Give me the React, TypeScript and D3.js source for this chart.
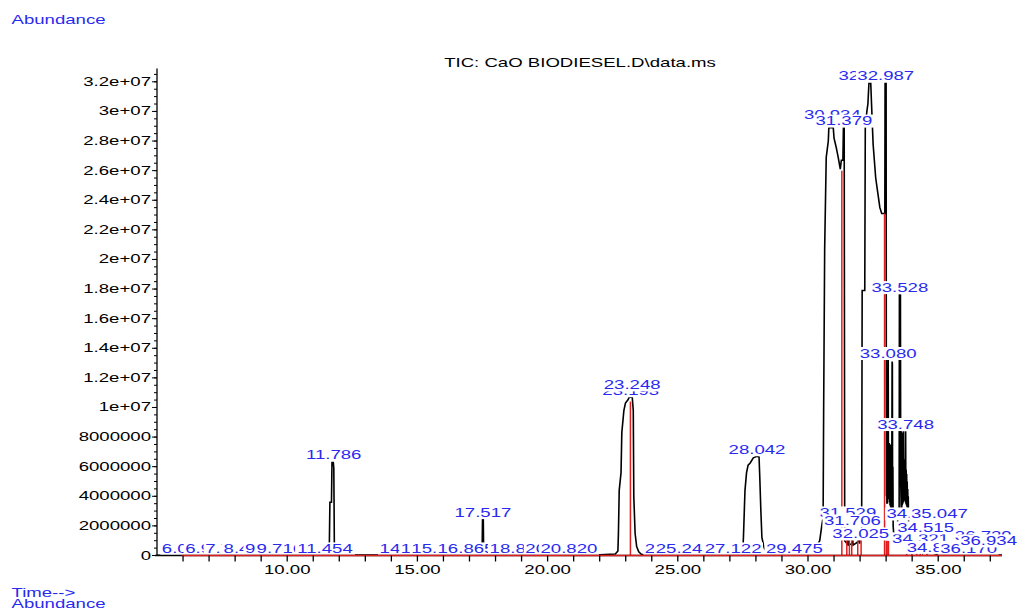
import React from "react";
import * as d3 from "d3";

// ---- chart data -------------------------------------------------------
const title = "TIC: CaO BIODIESEL.D\\data.ms";
const xTickLabels = [10, 15, 20, 25, 30, 35];
const yTickValues = [0, 2e6, 4e6, 6e6, 8e6, 1e7, 1.2e7, 1.4e7, 1.6e7, 1.8e7, 2e7, 2.2e7, 2.4e7, 2.6e7, 2.8e7, 3e7, 3.2e7];
const timeDomain: [number, number] = [5.0, 37.45];
const abundanceMax = 3.29e7;

// total ion current trace: [retention time (min), abundance]
const ticTrace: [number, number][] = [
  [5.0, 0.02e6], [5.9, 0.03e6], [6.08, 0.25e6], [6.2, 0.03e6], [6.98, 0.2e6], [7.1, 0.03e6],
  [7.74, 0.2e6], [7.85, 0.03e6], [8.45, 0.2e6], [8.55, 0.03e6], [9.27, 0.2e6], [9.4, 0.03e6],
  [9.72, 0.25e6], [9.85, 0.03e6], [10.5, 0.03e6], [11.35, 0.05e6], [11.454, 0.35e6], [11.55, 0.15e6],
  [11.62, 0.9e6], [11.64, 3.6e6], [11.7, 3.6e6], [11.72, 6.3e6], [11.77, 6.3e6], [11.79, 5.9e6],
  [11.81, 0.9e6], [11.86, 0.1e6], [12.5, 0.03e6], [13.5, 0.03e6], [14.1, 0.04e6], [14.64, 0.25e6],
  [14.8, 0.04e6], [15.45, 0.25e6], [15.6, 0.04e6], [15.86, 0.25e6], [16.0, 0.04e6], [16.87, 0.3e6],
  [17.0, 0.05e6], [17.45, 0.2e6], [17.49, 0.9e6], [17.5, 2.45e6], [17.53, 2.45e6], [17.54, 0.9e6],
  [17.58, 0.3e6], [17.65, 0.05e6], [18.86, 0.3e6], [19.0, 0.05e6], [19.6, 0.2e6], [19.8, 0.2e6],
  [20.0, 0.05e6], [20.24, 0.3e6], [20.4, 0.05e6], [20.82, 0.3e6], [21.0, 0.05e6], [22.0, 0.05e6],
  [22.6, 0.1e6], [22.7, 0.3e6], [22.72, 1.5e6], [22.75, 4.4e6], [22.82, 5.6e6], [22.85, 8.3e6],
  [22.93, 9.8e6], [22.99, 10.3e6], [23.08, 10.5e6], [23.14, 10.7e6], [23.25, 10.7e6], [23.29, 9.8e6],
  [23.31, 4.0e6], [23.36, 1.5e6], [23.42, 0.6e6], [23.5, 0.25e6], [23.6, 0.08e6], [24.5, 0.05e6],
  [24.83, 0.25e6], [25.0, 0.05e6], [25.24, 0.3e6], [25.4, 0.05e6], [26.5, 0.08e6], [26.9, 0.25e6],
  [27.12, 0.3e6], [27.4, 0.2e6], [27.5, 0.5e6], [27.52, 1.2e6], [27.58, 4.4e6], [27.64, 5.6e6],
  [27.7, 6.1e6], [27.78, 6.25e6], [27.9, 6.6e6], [28.04, 6.7e6], [28.12, 6.65e6], [28.15, 5.2e6],
  [28.19, 3.0e6], [28.23, 1.2e6], [28.32, 0.5e6], [28.45, 0.15e6], [29.2, 0.1e6], [29.48, 0.35e6],
  [29.7, 0.2e6], [30.0, 0.3e6], [30.3, 0.5e6], [30.45, 1.0e6], [30.52, 1.9e6], [30.58, 2.6e6],
  [30.6, 9.6e6], [30.64, 20.7e6], [30.7, 26.9e6], [30.78, 28.0e6], [30.8, 28.9e6], [30.97, 28.9e6],
  [31.0, 28.2e6], [31.08, 27.6e6], [31.16, 26.9e6], [31.24, 26.1e6], [31.28, 26.7e6], [31.34, 26.7e6],
  [31.36, 28.9e6], [31.39, 28.9e6], [31.41, 1.0e6], [31.5, 0.8e6], [31.53, 1.3e6], [31.55, 0.7e6],
  [31.68, 0.8e6], [31.71, 1.3e6], [31.73, 0.7e6], [31.9, 0.9e6], [31.95, 1.3e6], [31.98, 0.8e6],
  [32.03, 1.4e6], [32.06, 1.8e6], [32.08, 17.9e6], [32.18, 17.9e6], [32.2, 28.9e6], [32.26, 30.0e6],
  [32.3, 30.5e6], [32.34, 31.9e6], [32.41, 31.9e6], [32.44, 30.5e6], [32.5, 27.8e6], [32.6, 25.5e6],
  [32.68, 24.5e6], [32.76, 23.5e6], [32.83, 23.1e6], [32.95, 23.1e6], [32.96, 31.9e6], [33.0, 31.9e6],
  [33.01, 4.0e6], [33.02, 6.5e6], [33.03, 3.5e6], [33.04, 7.0e6], [33.05, 3.5e6], [33.06, 8.0e6],
  [33.07, 13.2e6], [33.08, 13.2e6], [33.09, 4.5e6], [33.1, 7.5e6], [33.11, 3.8e6], [33.12, 7.6e6],
  [33.13, 3.6e6], [33.14, 7.4e6], [33.15, 3.4e6], [33.16, 7.5e6], [33.17, 3.3e6], [33.18, 7.3e6],
  [33.19, 3.2e6], [33.2, 7.2e6], [33.21, 3.2e6], [33.22, 7.0e6], [33.23, 13.1e6], [33.24, 13.0e6],
  [33.25, 3.0e6], [33.26, 6.0e6], [33.27, 2.0e6], [33.29, 1.5e6], [33.34, 1.2e6], [33.4, 1.0e6],
  [33.45, 2.6e6], [33.5, 3.2e6], [33.51, 17.6e6], [33.55, 17.6e6], [33.56, 5.0e6], [33.58, 3.0e6],
  [33.59, 8.4e6], [33.6, 3.2e6], [33.61, 8.2e6], [33.62, 3.4e6], [33.63, 8.3e6], [33.64, 3.5e6],
  [33.65, 7.0e6], [33.66, 3.6e6], [33.67, 8.4e6], [33.68, 3.8e6], [33.69, 6.5e6], [33.7, 3.8e6],
  [33.71, 6.0e6], [33.72, 3.7e6], [33.73, 5.9e6], [33.74, 3.6e6], [33.75, 8.4e6], [33.76, 3.5e6],
  [33.77, 5.8e6], [33.78, 3.4e6], [33.79, 5.5e6], [33.8, 3.3e6], [33.81, 5.0e6], [33.82, 3.2e6],
  [33.83, 4.5e6], [33.84, 3.2e6], [33.85, 4.0e6], [33.86, 2.6e6], [33.88, 1.2e6], [33.92, 0.7e6],
  [33.98, 0.6e6], [34.05, 0.3e6], [34.1, 0.6e6], [34.15, 0.2e6], [34.32, 0.5e6], [34.4, 0.15e6],
  [34.52, 0.5e6], [34.6, 0.15e6], [34.88, 0.4e6], [34.95, 0.1e6], [35.05, 0.45e6], [35.15, 0.1e6],
  [36.17, 0.35e6], [36.3, 0.08e6], [36.73, 0.3e6], [36.85, 0.08e6], [36.93, 0.35e6], [37.05, 0.05e6],
  [37.45, 0.03e6],
];

// integration drop lines: [retention time, height]
const integrationMarks: [number, number][] = [
  [23.18, 10.4e6], [31.3, 26.0e6], [31.49, 1.05e6], [31.59, 1.05e6], [31.68, 1.05e6], [31.91, 1.05e6],
  [32.04, 1.05e6], [32.94, 23.1e6], [33.01, 1.0e6], [33.04, 1.0e6], [33.09, 1.0e6], [33.79, 0.35e6],
  [33.99, 0.35e6], [34.18, 0.35e6], [34.31, 0.35e6], [34.57, 0.35e6], [34.88, 0.35e6], [37.07, 0.35e6],
];
const integrationBaseline: [number, number] = [5.95, 37.45];

// peak retention times and the abundance at which each annotation sits
const peakTimes = [
  6.078, 6.977, 7.743, 8.448, 9.27, 9.716, 11.454, 11.786, 14.638, 15.452, 15.857, 16.865, 17.517,
  18.862, 20.236, 20.82, 23.193, 23.248, 24.826, 25.243, 27.122, 28.042, 29.475, 30.934, 31.379,
  31.529, 31.706, 32.025, 32.264, 32.987, 33.08, 33.528, 33.748, 34.104, 34.321, 34.515, 34.88,
  35.047, 36.17, 36.729, 36.934,
];
const peakLabelLevels = [
  0, 0, 0, 0, 0, 0, 0, 6.34e6, 0, 0, 0, 0, 2.45e6,
  0, 0, 0, 10.68e6, 11.08e6, 0, 0, 0, 6.7e6, 0, 29.3e6, 28.9e6,
  2.43e6, 1.89e6, 1.01e6, 31.96e6, 31.96e6, 13.2e6, 17.65e6, 8.4e6, 2.36e6, 0.68e6, 1.42e6, 0.1e6,
  2.36e6, 0, 0.88e6, 0.54e6,
];

// ---- drawing ----------------------------------------------------------
const W = 1017;
const H = 610;
const SX = 1.55; // wide bitmap-style lettering
const FONT = "'Liberation Sans', Arial, Helvetica, sans-serif";
const BLUE = "#2a2aee";
const RED = "#e01e1e";
const PAD = 1.5;

const x = d3.scaleLinear().domain(timeDomain).range([157, 1002]);
const y = d3.scaleLinear().domain([0, abundanceMax]).range([555.5, 68.5]);

const textWidth = (s: string) =>
  Array.from(s).reduce((w, c) => w + (c === "." ? 0.278 : 0.556), 0) * 12 * SX;

function Txt(props: { x: number; y: number; anchor?: string; fill?: string; children: React.ReactNode }) {
  const { anchor = "start", fill = "#000" } = props;
  return (
    <text
      transform={`translate(${props.x},${props.y}) scale(${SX},1)`}
      textAnchor={anchor as any}
      fill={fill}
      fontSize={12}
      fontFamily={FONT}
    >
      {props.children}
    </text>
  );
}

export default function App() {
  const line = d3
    .line<[number, number]>()
    .x((d) => x(d[0]))
    .y((d) => y(d[1]));

  const minorY = d3.range(0, abundanceMax, 5e5);
  const minuteTicks = d3.range(6, 38, 1);

  return (
    <svg
      width={W}
      height={H}
      viewBox={`0 0 ${W} ${H}`}
      style={{ position: "fixed", left: 0, top: 0, background: "#fff" }}
    >
      <rect width={W} height={H} fill="#fff" />

      <Txt x={11.5} y={24} fill={BLUE}>Abundance</Txt>
      <Txt x={580} y={67} anchor="middle">{title}</Txt>

      {/* chromatogram */}
      <path d={line(ticTrace) || ""} fill="none" stroke="#000" strokeWidth={1.6} strokeLinejoin="miter" />

      {/* integration drop lines */}
      {integrationMarks.map(([t, h], i) => (
        <line key={i} x1={x(t)} x2={x(t)} y1={y(0)} y2={y(h)} stroke={RED} strokeWidth={1.5} />
      ))}

      {/* retention time annotations */}
      {peakTimes.map((rt, i) => {
        const s = rt.toFixed(3);
        const w = textWidth(s);
        const cx = x(rt);
        const by = y(peakLabelLevels[i]) - 2.5;
        return (
          <g key={i}>
            <rect x={cx - w / 2 - PAD} y={by - 10.6} width={w + 2 * PAD} height={13} fill="#fff" />
            <Txt x={cx} y={by} anchor="middle" fill={BLUE}>{s}</Txt>
          </g>
        );
      })}

      {/* y axis */}
      <line x1={157} x2={157} y1={y.range()[1]} y2={y(0)} stroke="#000" strokeWidth={1.3} />
      {minorY.map((v) => (
        <line key={v} x1={154} x2={157} y1={y(v)} y2={y(v)} stroke="#000" strokeWidth={1} />
      ))}
      {yTickValues.map((v) => (
        <g key={v}>
          <line x1={152} x2={157} y1={y(v)} y2={y(v)} stroke="#000" strokeWidth={1} />
          <Txt x={151} y={y(v) + 4} anchor="end">
            {v === 0 ? "0" : v >= 1e7 ? d3.format(".2~e")(v).replace("e+7", "e+07") : String(v)}
          </Txt>
        </g>
      ))}

      {/* x axis */}
      <line x1={155} x2={x(timeDomain[1])} y1={y(0)} y2={y(0)} stroke="#000" strokeWidth={1.3} />
      <line
        x1={x(integrationBaseline[0])}
        x2={x(integrationBaseline[1])}
        y1={y(0)}
        y2={y(0)}
        stroke={RED}
        strokeWidth={1.5}
      />
      {minuteTicks.map((t) => (
        <line key={t} x1={x(t)} x2={x(t)} y1={y(0)} y2={y(0) + 6} stroke="#000" strokeWidth={1.3} />
      ))}
      {xTickLabels.map((t) => (
        <Txt key={t} x={x(t)} y={574} anchor="middle">{t.toFixed(2)}</Txt>
      ))}

      <Txt x={11.5} y={597} fill={BLUE}>Time--&gt;</Txt>
      <Txt x={11.5} y={608} fill={BLUE}>Abundance</Txt>
    </svg>
  );
}
